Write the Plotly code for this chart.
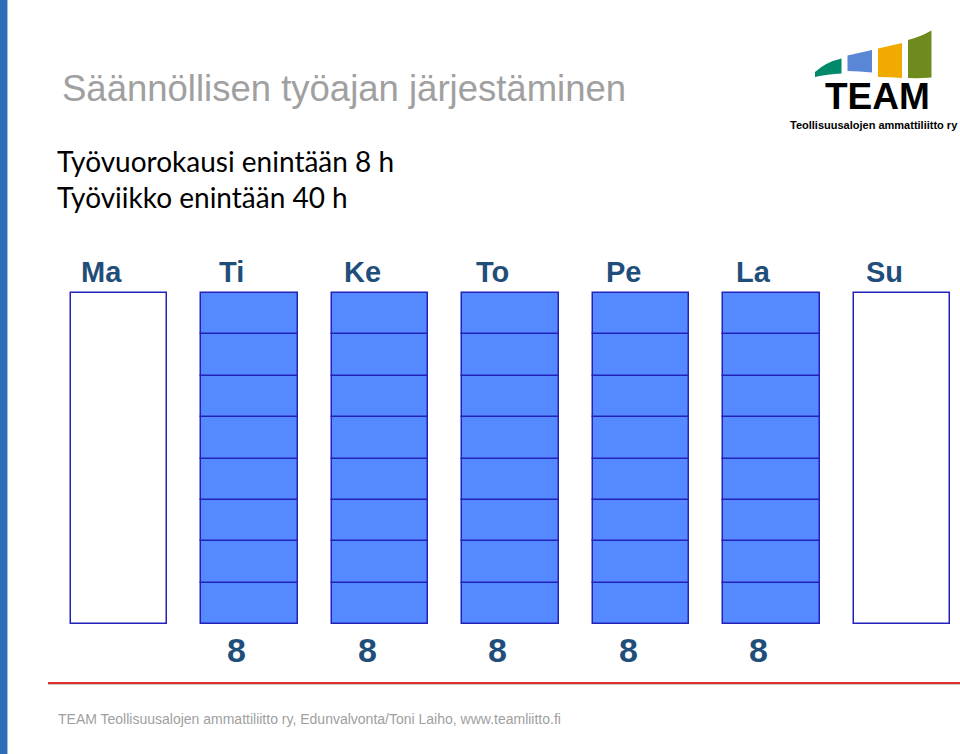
import plotly.graph_objects as go

# ---- data ----
days = ["Ma", "Ti", "Ke", "To", "Pe", "La", "Su"]
hours = [0, 8, 8, 8, 8, 8, 0]
max_daily = 8
title_text = "Säännöllisen työajan järjestäminen"
sub_lines = ["Työvuorokausi enintään 8 h", "Työviikko enintään 40 h"]
footer_text = "TEAM Teollisuusalojen ammattiliitto ry, Edunvalvonta/Toni Laiho, www.teamliitto.fi"

W, H = 960, 754
def px(x):
    return x / W
def py(y):
    return 1 - y / H

BLOCK_FILL = "#5589FF"
BLOCK_LINE = "#2222BB"
DARK_BLUE = "#1F4E7A"

xs = list(range(len(days)))
fig = go.Figure()

# empty frames for days without work
fig.add_trace(go.Bar(
    x=xs, y=[max_daily if h == 0 else None for h in hours], base=0,
    width=0.736, marker=dict(color="white", line=dict(color=BLOCK_LINE, width=1.5)),
    hoverinfo="skip", showlegend=False))

# one block per hour
for k in range(max_daily):
    fig.add_trace(go.Bar(
        x=xs, y=[1 if h > k else None for h in hours], base=[k] * len(xs),
        width=0.736, marker=dict(color=BLOCK_FILL, line=dict(color=BLOCK_LINE, width=1.5)),
        hoverinfo="skip", showlegend=False))

ann = []
# day labels
for i, d in enumerate(days):
    ann.append(dict(x=i, y=max_daily, xref="x", yref="y", text=d, showarrow=False,
                    xshift=-18, yshift=21, yanchor="middle", xanchor="center",
                    font=dict(family="Liberation Sans, Arial", size=29, color=DARK_BLUE, weight="bold")))
# hour totals
for i, h in enumerate(hours):
    if h > 0:
        ann.append(dict(x=i, y=0, xref="x", yref="y", text=str(h), showarrow=False,
                        xshift=-13, yshift=-26, yanchor="middle", xanchor="center",
                        font=dict(family="Liberation Sans, Arial", size=34, color=DARK_BLUE, weight="bold")))

# title & subtitles
ann.append(dict(x=px(60), y=py(88), xref="paper", yref="paper", text=title_text, showarrow=False,
                xanchor="left", yanchor="middle",
                font=dict(family="Liberation Sans, Arial", size=36.5, color="#A0A0A0")))
for j, (t, cy) in enumerate(zip(sub_lines, [161, 197])):
    ann.append(dict(x=px(55), y=py(cy), xref="paper", yref="paper", text=t, showarrow=False,
                    xanchor="left", yanchor="middle",
                    font=dict(family="Lato, Carlito, Calibri", size=28, color="#000000")))
# footer
ann.append(dict(x=px(56), y=py(719), xref="paper", yref="paper", text=footer_text, showarrow=False,
                xanchor="left", yanchor="middle",
                font=dict(family="Liberation Sans, Arial", size=14, color="#A0A0A0")))
# logo text
ann.append(dict(x=px(877.5), y=py(96.5), xref="paper", yref="paper", text="TEAM", showarrow=False,
                xanchor="center", yanchor="middle",
                font=dict(family="Liberation Sans, Arial", size=37, color="#000000", weight="bold")))
ann.append(dict(x=px(873.5), y=py(124.5), xref="paper", yref="paper", text="Teollisuusalojen ammattiliitto ry",
                showarrow=False, xanchor="center", yanchor="middle",
                font=dict(family="Liberation Sans Narrow, Liberation Sans, Arial", size=11, color="#000000", weight="bold")))

shapes = []
# left accent bar
shapes.append(dict(type="rect", xref="paper", yref="paper", x0=0, x1=px(7), y0=0, y1=1,
                   fillcolor="#2E6EB8", line=dict(width=0), layer="below"))
shapes.append(dict(type="line", xref="paper", yref="paper", x0=px(7.5), x1=px(7.5), y0=0, y1=1,
                   line=dict(color="#9CC0E6", width=1)))
# red rule
shapes.append(dict(type="line", xref="paper", yref="paper", x0=px(48), x1=1, y0=py(684.5), y1=py(684.5),
                   line=dict(color="#C8C8C8", width=1)))
shapes.append(dict(type="line", xref="paper", yref="paper", x0=px(48), x1=1, y0=py(683), y1=py(683),
                   line=dict(color="#E0302C", width=2)))

def p(x, y):
    return f"{px(x):.5f},{py(y):.5f}"

logo = [
    ("#00896B", f"M {p(815,77)} L {p(815,72)} Q {p(826,62)} {p(841.5,58.5)} L {p(841.5,73.5)} Q {p(827,74)} {p(815,77)} Z"),
    ("#5A86D6", f"M {p(847.5,55.5)} L {p(872,50)} L {p(872,72.5)} Q {p(860,71)} {p(847.5,71)} Z"),
    ("#F0AA00", f"M {p(878,48.5)} L {p(902,43)} L {p(902,78)} Q {p(890,77)} {p(878,77)} Z"),
    ("#6E8B1E", f"M {p(908,40)} Q {p(920,37)} {p(931.5,30.5)} L {p(931.5,77.5)} Q {p(920,78.5)} {p(908,78)} Z"),
]
for col, d in logo:
    shapes.append(dict(type="path", xref="paper", yref="paper", path=d, fillcolor=col, line=dict(width=0)))

x0 = -119 / 130.5
fig.update_layout(
    width=W, height=H, margin=dict(l=0, r=0, t=0, b=0),
    paper_bgcolor="white", plot_bgcolor="white",
    barmode="overlay", bargap=0,
    xaxis=dict(range=[x0, x0 + W / 130.5], visible=False, fixedrange=True),
    yaxis=dict(range=[-(H - 624) / 41.375, 624 / 41.375], visible=False, fixedrange=True),
    annotations=ann, shapes=shapes, showlegend=False,
)

fig.write_html("out.html")
